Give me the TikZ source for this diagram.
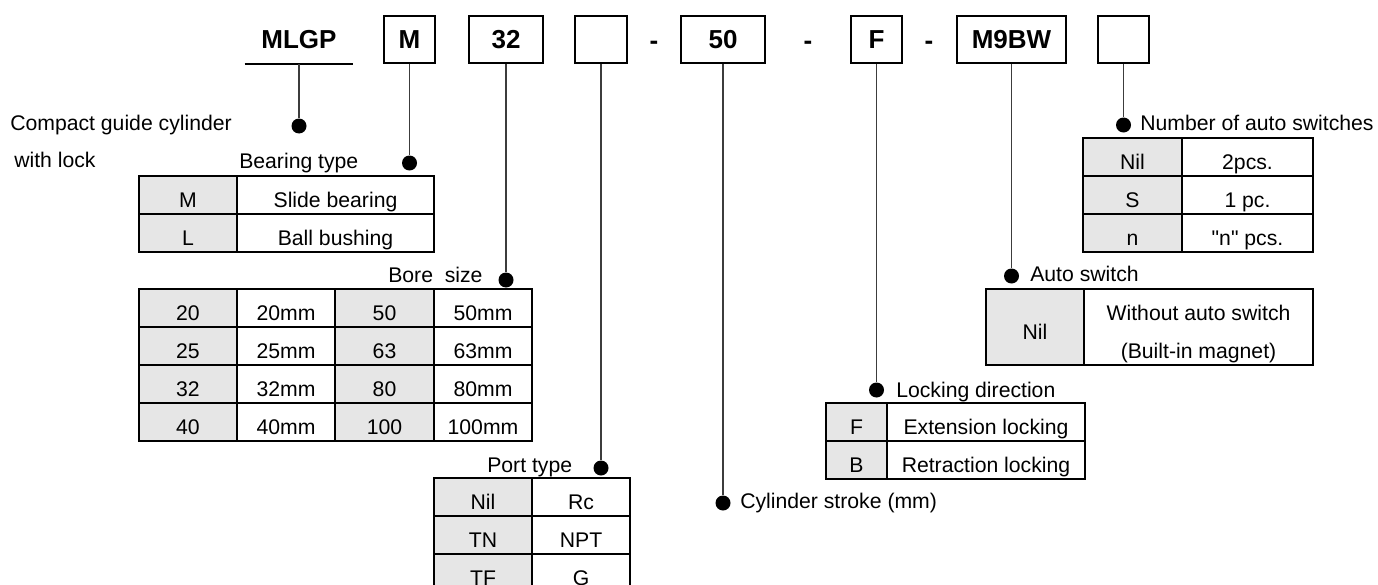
\documentclass[tikz,border=0pt]{standalone}
\usepackage{fontspec}
\setmainfont{Liberation Sans}
\newfontfamily\plainsans{Liberation Sans}[Ligatures=TeXOff]
\usetikzlibrary{positioning}
\definecolor{codegray}{HTML}{E6E6E6}
\definecolor{leadgray}{HTML}{3C3C3C}

\begin{document}
\begin{tikzpicture}[x=0.75pt,y=-0.75pt,
  partbox/.style={draw,line width=1.5pt,minimum width=#1,minimum height=35.25pt,inner sep=0pt,font=\fontsize{19.5}{22}\selectfont\bfseries},
  sep/.style={anchor=base,inner sep=0pt,font=\fontsize{19.5}{22}\selectfont\bfseries},
  lbl/.style={anchor=base west,inner sep=0pt,font=\fontsize{15.9}{19}\selectfont},
  cell/.style={anchor=base,inner sep=0pt,font=\fontsize{15.9}{19}\selectfont},
  tbl/.style={line width=1.5pt},
  lead/.style={leadgray,line width=0.9pt},
  dot/.style={circle,fill=black,inner sep=0pt,minimum size=11.25pt}]
\useasboundingbox (0,0) rectangle (1378,585);

% model code
\node[inner sep=0pt,minimum width=81pt,minimum height=36.75pt,font=\fontsize{19.5}{22}\selectfont\bfseries] (mlgp) at (299,39.5) {MLGP};
\draw[line width=1.5pt] (mlgp.south west) -- (mlgp.south east);
\node[partbox=38.25pt] (bm) at (409.5,39.5) {M};
\node[partbox=55.5pt] (bbore) at (506,39.5) {32};
\node[partbox=39pt] (bport) at (601,39.5) {};
\node[sep] (s1) at (654,50) {-};
\node[partbox=63pt] (bstroke) at (723,39.5) {50};
\node[sep] (s2) at (808,50) {-};
\node[partbox=38.25pt] (block) at (876.5,39.5) {F};
\node[sep] (s3) at (929,50) {-};
\node[partbox=81.75pt] (bsw) at (1011.5,39.5) {M9BW};
\node[partbox=38.25pt] (bnum) at (1123.5,39.5) {};

% dots and leads
\node[dot] (dcyl) at (mlgp |- 0,126) {};
\node[dot] (dbear) at (bm |- 0,163) {};
\node[dot] (dbore) at (bbore |- 0,280) {};
\node[dot] (dport) at (bport |- 0,468) {};
\node[dot] (dstroke) at (bstroke |- 0,503) {};
\node[dot] (dlock) at (block |- 0,390) {};
\node[dot] (dsw) at (bsw |- 0,276) {};
\node[dot] (dnum) at (bnum |- 0,125) {};
\draw[lead] (mlgp.south) -- (dcyl);
\draw[lead] (bm) -- (dbear);
\draw[lead] (bbore) -- (dbore);
\draw[lead] (bport) -- (dport);
\draw[lead] (bstroke) -- (dstroke);
\draw[lead] (block) -- (dlock);
\draw[lead] (bsw) -- (dsw);
\draw[lead] (bnum) -- (dnum);

% headings
\node[lbl] (tcyl) at (10,131) {Compact guide cylinder};
\node[lbl] (tcyl2) at (14,167) {with lock};
\node[lbl] (tbear) at (239,168) {Bearing type};
\node[lbl] (tbore) at (388,282) {Bore\ \ size};
\node[lbl] (tport) at (487,472) {Port type};
\node[lbl] (tstroke) at (740,508) {Cylinder stroke (mm)};
\node[lbl] (tlock) at (896,397) {Locking direction};
\node[lbl] (tsw) at (1030,281) {Auto switch};
\node[lbl] (tnum) at (1140,131) {Number of auto switches};

% bearing type
\fill[codegray] (139,176) rectangle (237,252);
\draw[tbl] (139,176) rectangle (434,252) (237,176) -- (237,252) (139,214) -- (434,214);
\node[cell] (bear-c1) at (188,207) {M};
\node[cell] (bear-d1) at (335.5,207) {Slide bearing};
\node[cell] (bear-c2) at (188,245) {L};
\node[cell] (bear-d2) at (335.5,245) {Ball bushing};

% bore size
\fill[codegray] (139,289) rectangle (237,441) (335,289) rectangle (434,441);
\draw[tbl] (139,289) rectangle (532,441);
\foreach \x in {237,335,434} \draw[tbl] (\x,289) -- (\x,441);
\foreach \y in {327,365,403} \draw[tbl] (139,\y) -- (532,\y);
\foreach \a/\b/\c/\d [count=\i] in {20/20mm/50/50mm,25/25mm/63/63mm,32/32mm/80/80mm,40/40mm/100/100mm}{
  \node[cell] (bore-a\i) at (188,{320+38*(\i-1)}) {\a};
  \node[cell] (bore-b\i) at (286,{320+38*(\i-1)}) {\b};
  \node[cell] (bore-c\i) at (384.5,{320+38*(\i-1)}) {\c};
  \node[cell] (bore-d\i) at (483,{320+38*(\i-1)}) {\d};
}

% port type
\fill[codegray] (434,478) rectangle (532,592);
\draw[tbl] (434,478) rectangle (630,592) (532,478) -- (532,592) (434,516) -- (630,516) (434,554) -- (630,554);
\foreach \c/\d [count=\i] in {Nil/Rc,TN/NPT,TF/G}{
  \node[cell] (port-c\i) at (483,{509+38*(\i-1)}) {\c};
  \node[cell] (port-d\i) at (581,{509+38*(\i-1)}) {\d};
}

% locking direction
\fill[codegray] (826,403) rectangle (887,479);
\draw[tbl] (826,403) rectangle (1085,479) (887,403) -- (887,479) (826,441) -- (1085,441);
\node[cell] (lock-c1) at (856.5,434) {F};
\node[cell] (lock-d1) at (986,434) {Extension locking};
\node[cell] (lock-c2) at (856.5,472) {B};
\node[cell] (lock-d2) at (986,472) {Retraction locking};

% auto switch
\fill[codegray] (986,289) rectangle (1084,365);
\draw[tbl] (986,289) rectangle (1313,365) (1084,289) -- (1084,365);
\node[cell] (sw-c1) at (1035,339) {Nil};
\node[cell] (sw-d1) at (1198.5,320) {Without auto switch};
\node[cell] (sw-d2) at (1198.5,358) {(Built-in magnet)};

% number of auto switches
\fill[codegray] (1083,138) rectangle (1182,252);
\draw[tbl] (1083,138) rectangle (1313,252) (1182,138) -- (1182,252) (1083,176) -- (1313,176) (1083,214) -- (1313,214);
\foreach \c/\d [count=\i] in {Nil/2pcs.,S/1 pc.,n/{\plainsans"n" pcs.}}{
  \node[cell] (num-c\i) at (1132.5,{169+38*(\i-1)}) {\c};
  \node[cell] (num-d\i) at (1247.5,{169+38*(\i-1)}) {\d};
}
\end{tikzpicture}
\end{document}
